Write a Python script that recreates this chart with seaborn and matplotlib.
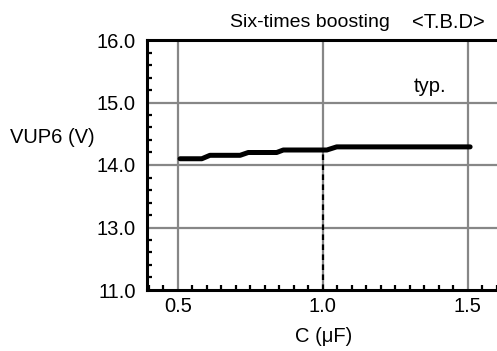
import numpy as np
import pandas as pd
import matplotlib
matplotlib.use("Agg")
import matplotlib.pyplot as plt
from matplotlib.ticker import MultipleLocator, FixedLocator
import seaborn as sns

# Data
cap_uF = [0.508, 0.583, 0.611, 0.715, 0.743, 0.841, 0.864, 1.014, 1.048, 1.508]
vup6_V = [14.10, 14.10, 14.155, 14.155, 14.20, 14.20, 14.24, 14.24, 14.29, 14.29]
marker_c = 1.0
y_tick_pos = [12, 13, 14, 15, 16]
y_tick_labels = ["11.0", "13.0", "14.0", "15.0", "16.0"]
x_ticks = [0.5, 1.0, 1.5]
x_tick_labels = ["0.5", "1.0", "1.5"]

sns.set_style("white")
plt.rcParams['font.family'] = ['Liberation Sans', 'DejaVu Sans']
plt.rcParams['text.color'] = 'black'
plt.rcParams['axes.labelcolor'] = 'black'
plt.rcParams['xtick.color'] = 'black'
plt.rcParams['ytick.color'] = 'black'

FS = 14.5

fig = plt.figure(figsize=(4.97, 3.51), dpi=100)
ax = fig.add_axes([147/497, 1 - 290/351, (500 - 147)/497, 250/351])

df = pd.DataFrame({"C": cap_uF, "V": vup6_V})

ax.set_xlim(0.394, 1.611)
ax.set_ylim(12, 16)

# grid
for xv in x_ticks:
    ax.axvline(xv, color="#878787", lw=1.6, zorder=1)
for yv in [13, 14, 15]:
    ax.axhline(yv, color="#878787", lw=1.6, zorder=1)

# dashed marker line at 1.0 up to the curve
yv_marker = np.interp(marker_c, cap_uF, vup6_V)
ax.vlines(marker_c, 12, yv_marker, colors="black", linestyles=(0, (2.5, 2.0)), lw=1.6, zorder=2)

sns.lineplot(data=df, x="C", y="V", ax=ax, color="black", lw=3.6, zorder=3)

ax.set_xticks(x_ticks)
ax.set_xticklabels(x_tick_labels)
ax.yaxis.set_major_locator(FixedLocator(y_tick_pos))
ax.set_yticklabels(y_tick_labels)
ax.xaxis.set_minor_locator(MultipleLocator(0.05))
ax.yaxis.set_minor_locator(MultipleLocator(0.2))

ax.tick_params(axis="both", which="both", direction="in", labelsize=FS,
               color="black", bottom=True, left=True, top=False, right=False)
ax.tick_params(axis="x", which="major", length=0, pad=5)
ax.tick_params(axis="y", which="major", length=0, pad=8)
ax.tick_params(axis="both", which="minor", length=3.5, width=1.6)

for s in ["left", "bottom", "top"]:
    ax.spines[s].set_linewidth(2.2)
    ax.spines[s].set_color("black")
ax.spines["right"].set_visible(False)

ax.set_xlabel("C (μF)", fontsize=FS, labelpad=8)
ax.set_ylabel("")
fig.text(10/497, 1 - 143/351, "VUP6 (V)", fontsize=FS, ha="left", va="baseline")
fig.text(310/497, 1 - 27/351, "Six-times boosting", fontsize=14, ha="center", va="baseline")
fig.text(448/497, 1 - 28/351, "<T.B.D>", fontsize=FS, ha="center", va="baseline")
fig.text(430/497, 1 - 92/351, "typ.", fontsize=FS, ha="center", va="baseline")

fig.savefig("out.png", dpi=100)
